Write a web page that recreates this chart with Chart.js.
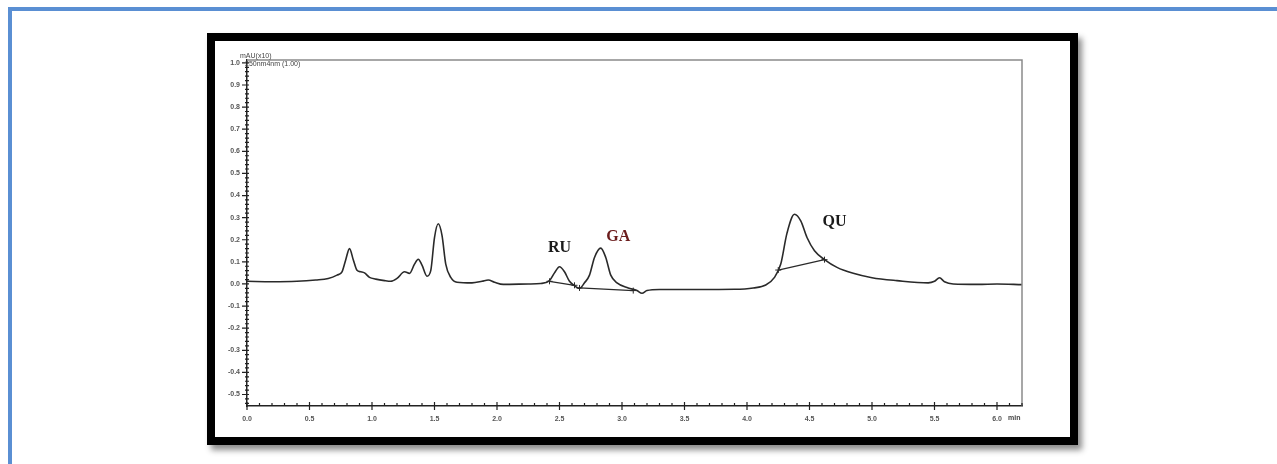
<!DOCTYPE html>
<html>
<head>
<meta charset="utf-8">
<script src="https://cdn.jsdelivr.net/npm/chart.js@4.4.0/dist/chart.umd.min.js"></script>
<style>
  html, body { margin: 0; padding: 0; background: #fff; overflow: hidden; width: 1277px; height: 464px; }
  #blue { position: absolute; left: 8px; top: 7px; width: 1400px; height: 600px; border-left: 4px solid #5a8fd3; border-top: 4px solid #5a8fd3; }
  #frame { position: absolute; left: 207px; top: 33px; width: 871px; height: 412px; box-sizing: border-box;
           border: 8px solid #000; background: #fff; box-shadow: 4px 5px 6px rgba(0,0,0,0.45); }
  #chart { position: absolute; left: 0; top: 0; }
</style>
</head>
<body>
<div id="blue"></div>
<div id="frame"><canvas id="chart" width="855" height="396"></canvas></div>
<script>
// chromatogram trace (time in min, signal in mAU x10)
const times = [0.00, 0.20, 0.40, 0.55, 0.65, 0.72, 0.76, 0.79, 0.82, 0.85, 0.88, 0.91, 0.94, 0.98, 1.03, 1.10, 1.15, 1.20, 1.26, 1.30,
  1.34, 1.37, 1.40, 1.44, 1.47, 1.50, 1.53, 1.56, 1.59, 1.63, 1.68, 1.80, 1.88, 1.93, 1.98, 2.05, 2.25, 2.35, 2.42, 2.46,
  2.50, 2.54, 2.58, 2.62, 2.66, 2.70, 2.74, 2.78, 2.83, 2.87, 2.91, 2.96, 3.05, 3.12, 3.16, 3.20, 3.30, 3.60, 3.90, 4.05,
  4.15, 4.22, 4.27, 4.32, 4.38, 4.43, 4.48, 4.54, 4.62, 4.72, 4.85, 5.00, 5.20, 5.45, 5.50, 5.54, 5.58, 5.65, 5.85, 6.00, 6.20];
const signal = [0.012, 0.010, 0.012, 0.018, 0.025, 0.040, 0.055, 0.110, 0.160, 0.110, 0.062, 0.055, 0.050, 0.030, 0.022, 0.015, 0.012, 0.025, 0.055, 0.048,
  0.090, 0.112, 0.085, 0.035, 0.060, 0.210, 0.272, 0.220, 0.090, 0.030, 0.008, 0.005, 0.012, 0.018, 0.008, -0.002, 0.000, 0.002, 0.015, 0.050,
  0.078, 0.055, 0.012, -0.008, -0.020, 0.005, 0.040, 0.120, 0.162, 0.120, 0.040, 0.005, -0.018, -0.030, -0.042, -0.030, -0.025, -0.025, -0.024, -0.018,
  -0.005, 0.030, 0.090, 0.230, 0.315, 0.285, 0.210, 0.150, 0.110, 0.075, 0.048, 0.028, 0.015, 0.005, 0.012, 0.028, 0.010, 0.000, -0.002, 0.000, -0.003];

// integration baselines (null = break between peaks)
const baseTimes = [2.42, 2.62, null, 2.66, 3.09, null, 4.25, 4.62];
const baseValues = [0.012, -0.006, null, -0.018, -0.030, null, 0.063, 0.110];

// peak names
const peakNames = ['RU', 'GA', 'QU'];
const peakTimes = [2.50, 2.97, 4.70];
const peakValues = [0.165, 0.215, 0.28];
const peakColors = ['#1a1a1a', '#6b1d1d', '#1a1a1a'];

// axis labels
const xTicks = [0.0, 0.5, 1.0, 1.5, 2.0, 2.5, 3.0, 3.5, 4.0, 4.5, 5.0, 5.5, 6.0];
const yTicks = [1.0, 0.9, 0.8, 0.7, 0.6, 0.5, 0.4, 0.3, 0.2, 0.1, 0.0, -0.1, -0.2, -0.3, -0.4, -0.5];

const isMajor = (v, step) => Math.abs(v / step - Math.round(v / step)) < 1e-6;

const tickPlugin = {
  id: 'tickMarks',
  afterDraw(chart) {
    const ctx = chart.ctx;
    const area = chart.chartArea;
    const xs = chart.scales.x, ys = chart.scales.y;
    ctx.save();
    // top and right frame
    ctx.strokeStyle = '#8a8a8a';
    ctx.lineWidth = 1.5;
    ctx.beginPath();
    ctx.moveTo(area.left, area.top);
    ctx.lineTo(area.right, area.top);
    ctx.lineTo(area.right, area.bottom);
    ctx.stroke();
    // ticks
    ctx.strokeStyle = '#222';
    ctx.lineWidth = 1.2;
    ctx.beginPath();
    xs.ticks.forEach(t => {
      const px = xs.getPixelForValue(t.value);
      const major = xTicks.some(v => Math.abs(v - t.value) < 1e-6);
      ctx.moveTo(px, area.bottom - (major ? 4 : 3));
      ctx.lineTo(px, area.bottom + (major ? 4 : 0));
    });
    ys.ticks.forEach(t => {
      const py = ys.getPixelForValue(t.value);
      const major = yTicks.some(v => Math.abs(v - t.value) < 1e-6);
      ctx.moveTo(area.left - (major ? 5 : 2), py);
      ctx.lineTo(area.left + 2, py);
    });
    ctx.stroke();
    // header texts
    ctx.fillStyle = '#444';
    ctx.font = '7px "Liberation Sans", Arial, sans-serif';
    ctx.textBaseline = 'alphabetic';
    ctx.textAlign = 'left';
    ctx.fillText('mAU(x10)', area.left - 7, area.top - 2);
    ctx.fillText('250nm4nm (1.00)', area.left - 2, area.top + 6);
    ctx.font = 'bold 7px "Liberation Sans", Arial, sans-serif';
    ctx.fillText('min', xs.getPixelForValue(6.0) + 11, area.bottom + 14);
    // peak names
    ctx.font = 'bold 16px "Liberation Serif", "Times New Roman", serif';
    ctx.textAlign = 'center';
    ctx.textBaseline = 'middle';
    peakNames.forEach((n, i) => {
      ctx.fillStyle = peakColors[i];
      ctx.fillText(n, xs.getPixelForValue(peakTimes[i]), ys.getPixelForValue(peakValues[i]));
    });
    ctx.restore();
  }
};

const tickFont = { family: '"Liberation Sans", Arial, sans-serif', size: 7, weight: 'bold' };

new Chart(document.getElementById('chart'), {
  type: 'line',
  data: {
    datasets: [{
      data: times.map((t, i) => ({ x: t, y: signal[i] })),
      borderColor: '#2a2a2a',
      borderWidth: 1.6,
      pointRadius: 0,
      cubicInterpolationMode: 'monotone'
    }, {
      data: baseTimes.map((t, i) => (t === null ? { x: null, y: null } : { x: t, y: baseValues[i] })),
      borderColor: '#2a2a2a',
      borderWidth: 1.3,
      pointStyle: 'cross',
      pointRadius: 3,
      pointBorderWidth: 1,
      pointBorderColor: '#2a2a2a',
      spanGaps: false
    }]
  },
  options: {
    responsive: false,
    devicePixelRatio: 1,
    animation: false,
    events: [],
    layout: { padding: { top: 19, right: 48, bottom: 0, left: 0 } },
    plugins: { legend: { display: false }, tooltip: { enabled: false } },
    scales: {
      x: {
        type: 'linear',
        min: 0,
        max: 6.2,
        afterFit: s => { s.height = 31; },
        afterBuildTicks: s => {
          const arr = [];
          for (let i = 0; i <= 62; i++) arr.push({ value: i / 10 });
          s.ticks = arr;
        },
        grid: { display: false, drawTicks: false },
        border: { display: true, color: '#222', width: 1.5 },
        ticks: {
          autoSkip: false,
          maxRotation: 0,
          padding: 9,
          color: '#555',
          font: tickFont,
          callback: v => (xTicks.some(x => Math.abs(x - v) < 1e-6) ? v.toFixed(1) : '')
        }
      },
      y: {
        type: 'linear',
        min: -0.552,
        max: 1.013,
        afterFit: s => { s.width = 32; },
        afterBuildTicks: s => {
          const arr = [];
          for (let i = -27; i <= 50; i++) arr.push({ value: i / 50 });
          s.ticks = arr;
        },
        grid: { display: false, drawTicks: false },
        border: { display: true, color: '#222', width: 1.5 },
        ticks: {
          autoSkip: false,
          padding: 7,
          color: '#555',
          font: tickFont,
          callback: v => (yTicks.some(y => Math.abs(y - v) < 1e-6) ? v.toFixed(1) : '')
        }
      }
    }
  },
  plugins: [tickPlugin]
});
</script>
</body>
</html>
